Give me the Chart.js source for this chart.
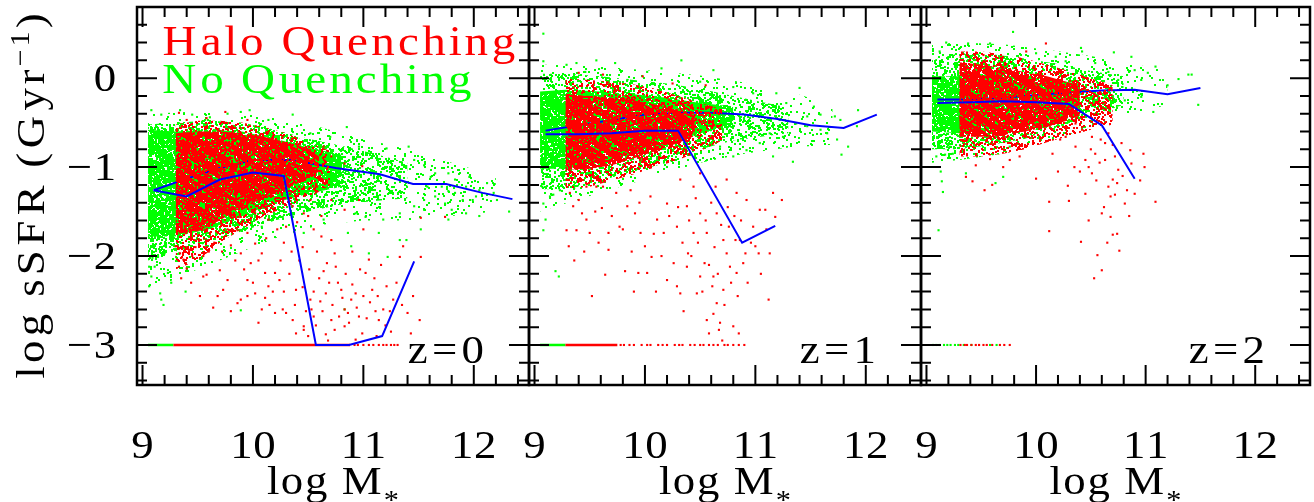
<!DOCTYPE html>
<html>
<head>
<meta charset="utf-8">
<script src="https://cdn.jsdelivr.net/npm/chart.js"></script>
<style>
  html, body { margin: 0; padding: 0; background: #fff; }
  #wrap { position: relative; width: 1314px; height: 502px; overflow: hidden; background: #fff; }
  #wrap canvas { position: absolute; left: 0; top: 0; }
</style>
</head>
<body>
<div id="wrap">
  <canvas id="p0" width="1314" height="502"></canvas>
  <canvas id="p1" width="1314" height="502"></canvas>
  <canvas id="p2" width="1314" height="502"></canvas>
</div>
<script>
// ---------------- axes ----------------
const massTicks = [9, 10, 11, 12];
const massTickLabels = ['9', '10', '11', '12'];
const ssfrTicks = [0, -1, -2, -3];
const ssfrTickLabels = ['0', '\u22121', '\u22122', '\u22123'];
const redshiftLabels = ['z=0', 'z=1', 'z=2'];
const legendLabels = ['Halo Quenching', 'No Quenching'];

// ---------------- z = 0 ----------------
const z0NoQuenchMass = [9.1, 9.4, 9.7, 10.0, 10.35, 10.75, 11.15, 11.45, 11.75, 12.08, 12.35];
const z0NoQuenchSSFR = [-1.26, -1.13, -1.01, -0.92, -0.92, -1.01, -1.08, -1.19, -1.19, -1.29, -1.36];
const z0HaloMass = [9.1, 9.4, 9.7, 10.0, 10.28, 10.57, 10.87, 11.17, 11.46];
const z0HaloSSFR = [-1.26, -1.33, -1.14, -1.06, -1.1, -3.0, -3.0, -2.9, -2.06];

const z0GreenSparseMass = [9.05, 9.4, 9.8, 10.2, 10.6, 11.0, 11.4, 11.8, 12.2];
const z0GreenSparseTop = [-0.4, -0.38, -0.38, -0.45, -0.55, -0.68, -0.8, -0.95, -1.1];
const z0GreenSparseBottom = [-2.4, -2.2, -2.0, -1.8, -1.65, -1.6, -1.6, -1.55, -1.5];
const z0GreenHaloMass = [9.05, 9.3, 9.6, 9.9, 10.2, 10.5, 10.8, 11.1, 11.4];
const z0GreenHaloTop = [-0.52, -0.5, -0.48, -0.5, -0.58, -0.68, -0.76, -0.85, -0.95];
const z0GreenHaloBottom = [-2.05, -1.95, -1.85, -1.72, -1.6, -1.5, -1.42, -1.38, -1.35];
const z0GreenCoreMass = [9.05, 9.3, 9.6, 9.9, 10.2, 10.5, 10.8];
const z0GreenCoreTop = [-0.58, -0.6, -0.58, -0.6, -0.68, -0.78, -0.86];
const z0GreenCoreBottom = [-1.78, -1.78, -1.7, -1.55, -1.4, -1.3, -1.22];
const z0RedHaloMass = [9.3, 9.5, 9.7, 9.9, 10.1, 10.3, 10.5, 10.7];
const z0RedHaloTop = [-0.52, -0.48, -0.48, -0.5, -0.55, -0.62, -0.72, -0.82];
const z0RedHaloBottom = [-2.15, -2.05, -1.85, -1.7, -1.55, -1.45, -1.35, -1.2];
const z0RedCoreMass = [9.3, 9.5, 9.7, 9.9, 10.1, 10.3, 10.5, 10.6];
const z0RedCoreTop = [-0.62, -0.6, -0.6, -0.62, -0.66, -0.72, -0.8, -0.88];
const z0RedCoreBottom = [-1.75, -1.72, -1.6, -1.45, -1.35, -1.25, -1.12, -1.05];

const z0RedGalaxies = [
  [9.30,-1.89],[9.34,-1.97],[9.39,-2.08],[9.40,-2.14],[9.45,-2.00],[9.33,-2.12],[9.37,-2.04],[9.42,-1.93],
  [9.55,-2.23],[9.58,-2.21],[9.51,-1.82],[9.61,-1.74],[9.86,-1.71],[9.89,-1.97],[9.95,-1.74],[10.02,-1.86],
  [10.08,-1.97],[10.11,-2.19],[9.86,-2.53],[9.89,-2.49],[10.02,-2.42],[10.11,-2.47],[10.20,-2.19],[10.24,-2.27],
  [10.27,-2.60],[10.30,-2.64],[10.39,-2.38],[9.70,-2.16],[9.73,-2.38],[9.77,-2.27],[9.95,-2.27],[9.98,-2.08],
  [10.14,-2.34],[10.20,-2.64],[10.36,-2.72],[10.46,-2.79],[10.52,-2.49],[10.53,-2.60],[10.55,-2.68],[10.61,-2.51],
  [10.64,-2.17],[10.67,-2.08],[10.71,-1.82],[10.74,-1.97],[10.77,-2.30],[10.80,-2.38],[10.83,-2.60],[10.86,-2.64],
  [10.89,-2.49],[10.93,-2.42],[10.96,-2.68],[10.99,-2.87],[11.02,-2.19],[11.05,-2.04],[11.08,-2.38],[11.11,-2.62],
  [11.14,-2.72],[11.18,-2.60],[11.21,-2.34],[11.27,-2.49],[11.33,-2.01],[11.36,-1.89],[11.40,-2.64],[11.43,-2.87],
  [11.51,-2.72],[11.52,-2.01],[10.83,-2.79],[10.74,-2.83],[10.71,-2.72],[10.66,-2.42],[10.93,-2.94],[10.46,-2.83],
  [10.39,-2.87],[10.36,-1.44],[10.46,-1.52],[10.52,-1.37],[10.30,-1.67],[10.42,-1.22],[10.58,-1.22],[10.71,-1.37],
  [10.14,-1.59],[10.02,-1.52],[9.89,-1.56],[9.77,-1.70],[10.83,-1.48],[10.96,-1.37],[11.52,-1.57],[11.74,-1.56],
  [9.33,-0.39],[9.75,-0.38],[9.58,-0.45],[9.95,-0.47],[9.40,-0.47],[10.71,-0.88],[10.83,-0.96],[10.99,-0.99],
  [10.64,-0.77],[9.52,-2.45],[9.64,-2.58],[9.80,-2.62],[10.05,-2.75],[10.58,-1.95],[10.62,-1.78],[10.90,-1.95],
  [11.00,-1.70],[11.25,-2.85],[11.12,-2.90],[10.68,-2.95],[10.50,-2.90],
  [10.42,-2.05],[10.45,-2.35],[10.48,-2.62],[10.51,-2.15],[10.55,-2.40],[10.57,-2.78],[10.60,-2.25],[10.63,-2.62],
  [10.66,-2.88],[10.69,-2.30],[10.72,-2.55],[10.75,-2.12],[10.78,-2.68],[10.81,-2.47],[10.84,-2.20],[10.87,-2.75],
  [10.90,-2.32],[10.94,-2.58],[10.97,-2.15],[11.00,-2.45],[11.03,-2.70],[11.06,-2.52],[11.10,-2.25],[11.13,-2.45],
  [11.16,-2.10],[11.20,-2.78],[11.24,-2.62],[11.30,-2.30],[11.35,-2.55],[11.45,-2.45],
  [9.65,-1.85],[9.72,-1.95],[9.80,-1.88],[9.84,-2.05],[9.92,-2.15],[10.00,-2.30],[10.05,-2.05],[10.12,-1.80],
  [10.18,-2.40],[10.25,-2.05],[10.28,-1.85],[10.33,-2.20],[10.35,-1.95],[10.38,-2.55],[10.22,-1.70],[10.45,-1.90],
  [10.40,-1.62],[10.55,-1.70],[10.62,-1.55],[10.50,-1.55],[9.48,-1.90],[9.55,-2.00],[9.60,-1.95],[9.35,-2.25],
  [9.44,-2.30],[9.68,-2.45],[9.95,-2.45],[10.15,-2.55],[10.28,-2.40],[10.08,-2.60]
];
const z0GreenGalaxies = [
  [9.08,-0.36],[9.17,-0.41],[9.34,-0.36],[9.45,-0.41],[9.61,-0.44],[9.77,-0.40],[9.89,-0.38],[9.97,-0.36],
  [10.14,-0.47],[10.36,-0.41],[10.85,-0.55],[10.52,-0.62],[10.70,-0.66],[10.96,-0.77],[11.21,-0.79],[11.41,-0.77],
  [11.55,-0.98],[11.46,-0.92],[11.65,-1.07],[11.77,-1.07],[11.83,-1.14],[11.93,-1.22],[11.99,-1.37],[12.05,-1.26],
  [12.12,-1.31],[12.18,-1.29],[11.90,-1.37],[11.80,-1.48],[11.74,-1.41],[11.93,-1.52],[12.05,-1.55],[12.32,-1.50],
  [12.21,-1.37],[11.65,-1.33],[11.71,-1.22],[11.58,-1.22],[11.55,-1.37],[11.83,-1.29],[11.96,-1.11],[11.61,-1.11],
  [11.55,-1.48],[11.46,-1.44],[11.33,-1.52],[11.18,-1.59],[11.02,-1.56],[10.93,-1.52],[11.77,-1.27],[12.12,-1.18],
  [12.02,-1.33],[11.77,-1.59],[11.52,-1.70],[10.86,-1.74],[10.89,-1.89],[11.22,-2.01],[11.33,-1.82],[10.83,-2.60],
  [9.89,-2.61],[10.64,-1.59],[10.46,-1.74],[10.27,-1.56],[10.08,-1.67],[11.14,-1.74],[11.39,-1.82],[11.05,-1.97],
  [9.08,-2.23],[9.11,-2.12],[9.14,-2.01],[9.06,-2.34],[9.17,-2.49],[9.20,-1.97],[9.26,-2.30],[9.33,-1.97],
  [9.19,-2.55],[9.39,-2.40],[9.16,-2.42],[9.23,-2.19],[9.09,-2.02],[9.06,-2.12]
];
const z0GreenFloor = [9.05, 9.28];
const z0RedFloor = [9.28, 10.88];
const z0RedFloorGalaxies = [10.92, 10.95, 11.0, 11.05, 11.09, 11.14, 11.18, 11.21, 11.25, 11.28, 11.31];
const z0GreenFloorGalaxies = [];

// ---------------- z = 1 ----------------
const z1NoQuenchMass = [9.1, 9.4, 9.7, 10.0, 10.3, 10.6, 10.9, 11.2, 11.5, 11.8, 12.1];
const z1NoQuenchSSFR = [-0.59, -0.53, -0.47, -0.41, -0.39, -0.39, -0.41, -0.46, -0.53, -0.56, -0.41];
const z1HaloMass = [9.1, 9.4, 9.7, 10.0, 10.3, 10.88, 11.18];
const z1HaloSSFR = [-0.63, -0.63, -0.62, -0.59, -0.59, -1.85, -1.66];

const z1GreenSparseMass = [9.05, 9.3, 9.7, 10.1, 10.5, 10.9, 11.3, 11.7];
const z1GreenSparseTop = [0.15, 0.15, 0.12, 0.08, 0.03, -0.05, -0.15, -0.3];
const z1GreenSparseBottom = [-1.5, -1.4, -1.25, -1.1, -0.95, -0.85, -0.78, -0.75];
const z1GreenHaloMass = [9.05, 9.3, 9.6, 9.9, 10.2, 10.5, 10.8, 11.1, 11.3];
const z1GreenHaloTop = [0.05, 0.05, 0.02, -0.02, -0.06, -0.12, -0.2, -0.28, -0.33];
const z1GreenHaloBottom = [-1.25, -1.25, -1.15, -1.05, -0.95, -0.8, -0.7, -0.65, -0.62];
const z1GreenCoreMass = [9.05, 9.28, 9.6, 9.9, 10.2, 10.5, 10.8];
const z1GreenCoreTop = [-0.15, -0.13, -0.15, -0.18, -0.22, -0.28, -0.32];
const z1GreenCoreBottom = [-1.02, -1.02, -0.95, -0.85, -0.75, -0.62, -0.55];
const z1RedHaloMass = [9.28, 9.5, 9.7, 9.9, 10.1, 10.3, 10.5, 10.7];
const z1RedHaloTop = [0.0, -0.02, -0.04, -0.07, -0.12, -0.2, -0.28, -0.35];
const z1RedHaloBottom = [-1.25, -1.22, -1.15, -1.08, -1.0, -0.92, -0.82, -0.7];
const z1RedCoreMass = [9.28, 9.5, 9.7, 9.9, 10.1, 10.3, 10.45];
const z1RedCoreTop = [-0.18, -0.2, -0.22, -0.25, -0.3, -0.36, -0.42];
const z1RedCoreBottom = [-1.03, -1.02, -0.98, -0.9, -0.82, -0.73, -0.65];

const z1RedGalaxies = [
  [9.32,-1.29],[9.40,-1.37],[9.29,-1.71],[9.31,-1.89],[9.43,-1.52],[9.47,-1.59],[9.38,-1.71],[9.50,-1.74],
  [9.61,-1.46],[9.67,-1.74],[9.67,-1.93],[9.64,-2.21],[9.77,-1.67],[9.84,-1.44],[9.91,-1.52],[9.96,-1.74],
  [10.00,-1.89],[10.02,-2.19],[10.06,-2.01],[10.11,-1.59],[10.17,-1.74],[10.20,-2.27],[10.26,-2.08],[10.29,-2.34],
  [10.32,-2.42],[10.35,-2.62],[10.38,-2.12],[10.39,-1.97],[10.44,-1.74],[10.47,-2.42],[10.50,-2.23],[10.54,-2.08],
  [10.56,-2.72],[10.58,-2.87],[10.61,-2.34],[10.62,-2.23],[10.65,-2.53],[10.67,-2.83],[10.68,-2.75],[10.71,-2.38],
  [10.74,-1.97],[10.76,-1.67],[10.77,-2.12],[10.80,-2.79],[10.83,-2.19],[10.85,-2.87],[10.89,-2.08],[10.91,-1.97],
  [10.92,-1.37],[10.98,-1.67],[11.03,-1.97],[11.04,-1.48],[11.12,-2.49],[11.13,-1.97],[11.16,-1.29],[11.18,-1.56],
  [11.24,-1.37],[10.50,-1.52],[10.56,-1.74],[10.65,-1.52],[10.29,-1.67],[10.38,-1.44],[10.20,-1.41],[10.71,-1.82],
  [10.82,-1.82],[10.86,-1.82],[11.00,-1.89],[11.09,-1.48],[10.64,-1.22],[10.44,-1.22],[10.32,-1.14],[10.50,-1.07],
  [10.74,-1.14],[10.83,-1.29],[10.05,-1.33],[9.74,-1.29],[9.56,-1.22],[9.87,-1.26],[9.94,-2.19],[9.82,-2.17],
  [9.62,-1.22],[9.47,-1.22],[9.35,-1.44],[9.40,0.06],[9.62,0.04],[9.98,0.02],[10.25,-0.06],[10.55,-0.08],
  [10.30,-1.45],[10.34,-1.85],[10.40,-1.60],[10.42,-2.00],[10.46,-1.35],[10.48,-1.85],[10.52,-2.40],[10.55,-1.60],
  [10.58,-2.10],[10.60,-1.40],[10.63,-1.90],[10.66,-2.20],[10.69,-1.65],[10.72,-2.55],[10.75,-1.45],[10.78,-2.30],
  [10.81,-1.55],[10.84,-2.45],[10.87,-1.60],[10.93,-2.30],[10.96,-1.85],[11.05,-2.20],[11.10,-1.70],[10.70,-2.95],
  [10.62,-2.65],[9.55,-1.50],[9.70,-1.55],[9.80,-1.70],[9.88,-1.95],[9.95,-1.40],[10.08,-1.75],[10.15,-2.00],
  [10.22,-1.55],[10.10,-2.40],[9.90,-2.40],[9.58,-1.85],[9.45,-1.95],[9.36,-2.05],[9.52,-2.45]
];
const z1GreenGalaxies = [
  [9.08,0.50],[9.08,0.19],[9.29,0.15],[9.38,0.17],[9.56,0.20],[9.73,0.17],[9.46,0.07],[10.02,0.07],
  [10.15,0.11],[10.33,0.20],[10.62,0.09],[9.84,-0.02],[10.50,-0.04],[10.80,-0.10],[10.98,-0.17],[11.19,-0.17],
  [11.40,-0.11],[11.53,-0.32],[11.28,-0.28],[11.16,-0.36],[11.37,-0.51],[11.47,-0.54],[11.59,-0.58],[11.72,-0.43],
  [11.77,-0.47],[11.93,-0.36],[11.92,-0.54],[11.84,-0.77],[11.78,-0.86],[11.74,-0.69],[11.34,-0.94],[11.25,-0.66],
  [11.16,-0.88],[11.04,-0.73],[11.13,-0.62],[10.92,-0.81],[10.80,-0.88],[10.68,-0.77],[11.59,-0.41],[11.65,-0.62],
  [11.47,-0.43],[11.22,-0.47],[9.07,-1.22],[9.08,-1.41],[9.14,-1.33],[9.17,-1.31],[9.10,-1.59],[9.08,-1.71],
  [9.19,-2.17],[9.22,-2.23],[9.23,-1.26],[9.11,-1.11],[10.29,-0.84],[10.14,-0.88],[10.06,-0.73]
];
const z1GreenFloor = [9.05, 9.28];
const z1RedFloor = [9.28, 9.75];
const z1RedFloorGalaxies = [9.78, 9.81, 9.86, 9.9, 9.97, 10.02, 10.05, 10.12, 10.16, 10.2, 10.27, 10.31, 10.34,
  10.41, 10.45, 10.5, 10.53, 10.58, 10.62, 10.66, 10.72, 10.75, 10.8, 10.85, 10.9];
const z1GreenFloorGalaxies = [];

// ---------------- z = 2 ----------------
const z2NoQuenchMass = [9.1, 9.4, 9.7, 10.0, 10.3, 10.6, 10.9, 11.2, 11.5];
const z2NoQuenchSSFR = [-0.24, -0.24, -0.22, -0.19, -0.16, -0.14, -0.13, -0.18, -0.11];
const z2HaloMass = [9.1, 9.4, 9.7, 10.0, 10.3, 10.6, 10.9];
const z2HaloSSFR = [-0.28, -0.27, -0.26, -0.27, -0.29, -0.53, -1.13];

const z2GreenSparseMass = [9.05, 9.3, 9.7, 10.1, 10.5, 10.9, 11.2];
const z2GreenSparseTop = [0.38, 0.4, 0.38, 0.32, 0.25, 0.15, 0.1];
const z2GreenSparseBottom = [-0.95, -0.92, -0.85, -0.72, -0.55, -0.4, -0.3];
const z2GreenHaloMass = [9.05, 9.3, 9.6, 9.9, 10.2, 10.5, 10.8];
const z2GreenHaloTop = [0.2, 0.28, 0.27, 0.22, 0.16, 0.08, 0.02];
const z2GreenHaloBottom = [-0.8, -0.8, -0.75, -0.68, -0.55, -0.42, -0.3];
const z2GreenCoreMass = [9.05, 9.3, 9.6, 9.9, 10.2, 10.4];
const z2GreenCoreTop = [0.02, 0.02, 0.05, 0.02, -0.03, -0.06];
const z2GreenCoreBottom = [-0.6, -0.62, -0.6, -0.55, -0.48, -0.42];
const z2RedHaloMass = [9.3, 9.5, 9.7, 9.9, 10.1, 10.3, 10.5, 10.7];
const z2RedHaloTop = [0.3, 0.3, 0.27, 0.22, 0.15, 0.08, 0.0, -0.08];
const z2RedHaloBottom = [-0.88, -0.88, -0.85, -0.8, -0.72, -0.65, -0.58, -0.52];
const z2RedCoreMass = [9.3, 9.5, 9.7, 9.9, 10.1, 10.3, 10.4];
const z2RedCoreTop = [0.18, 0.15, 0.11, 0.07, 0.02, -0.05, -0.1];
const z2RedCoreBottom = [-0.66, -0.66, -0.64, -0.6, -0.55, -0.47, -0.42];

const z2RedGalaxies = [
  [9.36,-1.11],[9.42,-1.16],[9.53,-1.26],[9.58,-0.91],[9.70,-1.00],[9.76,-0.92],[9.85,-0.88],[10.00,-1.13],
  [10.12,-1.39],[10.29,-1.21],[10.30,-1.38],[10.36,-0.77],[10.45,-0.92],[10.48,-1.00],[10.51,-1.07],[10.54,-0.85],
  [10.59,-0.69],[10.63,-0.92],[10.66,-1.22],[10.68,-1.33],[10.70,-1.14],[10.72,-1.31],[10.74,-1.18],[10.75,-1.03],
  [10.81,-1.41],[10.83,-1.26],[10.86,-0.81],[10.87,-0.96],[10.98,-0.85],[10.99,-1.00],[11.09,-1.39],[10.60,-1.52],
  [10.68,-1.56],[10.56,-1.99],[10.53,-2.25],[10.60,-2.16],[10.70,-1.76],[10.74,-1.75],[10.76,-1.94],[10.41,-1.84],
  [10.12,-1.72],[10.15,-0.85],[10.22,-0.69],[10.42,-0.58],[10.66,-0.62],[10.78,-0.73],[10.36,-0.51],[10.27,-0.66],
  [10.63,-0.73],[10.51,-0.66],[9.91,0.30],[10.09,0.39],[9.52,0.26],
  [10.40,-1.05],[10.45,-1.30],[10.55,-1.15],[10.58,-0.95],[10.62,-1.45],[10.72,-0.88],[10.79,-1.10],[10.85,-1.55],
  [10.90,-1.30],[10.95,-1.15],[10.65,-1.85],[10.48,-1.60],[10.35,-1.00],[10.20,-1.05],[9.60,-1.20],[9.45,-0.98],
  [10.50,-0.80],[10.70,-0.75]
];
const z2GreenGalaxies = [
  [9.12,0.30],[9.18,0.40],[9.38,0.39],[9.58,0.39],[9.79,0.52],[10.41,0.34],[10.42,0.30],[10.71,0.29],
  [10.87,0.24],[10.90,0.09],[11.09,0.13],[11.02,0.06],[10.96,-0.02],[11.20,-0.08],[11.30,-0.01],[11.39,0.04],
  [11.42,0.04],[11.07,-0.38],[11.48,-0.30],[10.81,-0.25],[10.75,-0.02],[10.66,0.07],[10.54,0.17],[10.27,0.19],
  [10.18,0.24],[10.00,0.28],[10.54,-0.17],[10.68,-0.13],[10.96,-0.21],[9.11,-1.71],[9.15,-1.28],[9.13,-1.05],
  [9.14,-1.16],[9.17,-0.86],[9.09,-0.88],[9.36,-1.07],[9.63,-1.18],[9.70,-1.11],[9.59,-0.73],[9.76,-0.77],
  [9.21,-0.77],[9.24,-0.85]
];
const z2GreenFloor = [];
const z2RedFloor = [];
const z2GreenFloorGalaxies = [9.06, 9.09, 9.12, 9.16, 9.19, 9.22, 9.26, 9.29, 9.34, 9.41, 9.58, 9.64];
const z2RedFloorGalaxies = [9.31, 9.35, 9.37, 9.41, 9.45, 9.48, 9.52, 9.55, 9.6, 9.67, 9.71, 9.76];

// floor value used for galaxies with no measurable star formation
const ssfrFloor = -3;

// ---------------- styling ----------------
const RED = '#ff0000', GREEN = '#00ff00', BLUE = '#0000ff';
const FONT = '"Liberation Serif", "Times New Roman", serif';
const X_RANGE = [8.95, 12.5];
const Y_RANGE = [-3.45, 0.8];
const PANEL_EDGES = [[137, 529], [529, 921], [921, 1313]];
const PLOT_TOP = 7, PLOT_BOTTOM = 385;

// integer hash used to scatter the 2px specks of a fill texture
function hash32(n) {
  n = (n ^ 61) ^ (n >>> 16);
  n = (n + (n << 3)) | 0;
  n = n ^ (n >>> 4);
  n = Math.imul(n, 0x27d4eb2d);
  n = n ^ (n >>> 15);
  return (n >>> 0) / 4294967296;
}
// speckled fill texture for the densely populated parts of each cloud
function speckle(color, coverage, w, h, seed) {
  const c = document.createElement('canvas');
  c.width = w; c.height = h;
  const g = c.getContext('2d');
  g.fillStyle = color;
  const count = Math.round(-Math.log(1 - coverage) * w * h / 4);
  for (let i = 0; i < count; i++) {
    const u = hash32(seed + 2 * i), v = hash32(seed + 2 * i + 1);
    const px = Math.floor(u * w), py = Math.floor(v * h);
    g.fillRect(px, py, 2, 2);
    if (px === w - 1) g.fillRect(0, py, 1, 2);
    if (py === h - 1) g.fillRect(px, 0, 2, 1);
  }
  return g.createPattern(c, 'repeat');
}
const textures = {
  greenSparse: speckle(GREEN, 0.11, 127, 113, 101),
  greenHalo: speckle(GREEN, 0.38, 131, 109, 20011),
  greenCore: speckle(GREEN, 0.86, 137, 107, 40009),
  redHalo: speckle(RED, 0.38, 139, 103, 60013),
  redCore: speckle(RED, 0.86, 149, 101, 80021)
};

const zip = (xs, ys) => xs.map((x, i) => ({ x, y: ys[i] }));
const pairs = list => list.map(([x, y]) => ({ x, y }));
const onFloor = xs => xs.map(x => ({ x, y: ssfrFloor }));

function band(xs, top, bottom, texture, order) {
  return [
    { type: 'line', data: zip(xs, top), borderWidth: 0, borderColor: 'transparent',
      pointRadius: 0, fill: '+1', backgroundColor: texture, order, tension: 0 },
    { type: 'line', data: zip(xs, bottom), borderWidth: 0, borderColor: 'transparent',
      pointRadius: 0, fill: false, order, tension: 0 }
  ];
}
function galaxies(list, color, order) {
  return { type: 'scatter', data: list, pointStyle: 'rect', pointRadius: 1.5, borderWidth: 0,
    backgroundColor: color, borderColor: color, order };
}
function median(xs, ys, order) {
  return { type: 'line', data: zip(xs, ys), borderColor: BLUE, borderWidth: 2, pointRadius: 0,
    fill: false, tension: 0, order };
}
function floorSegment(range, color, order) {
  return { type: 'line', data: range.length ? onFloor(range) : [], borderColor: color, borderWidth: 2.5,
    pointRadius: 0, fill: false, order };
}

const panelData = [
  {
    bands: [
      [z0GreenSparseMass, z0GreenSparseTop, z0GreenSparseBottom, 'greenSparse', 30],
      [z0GreenHaloMass, z0GreenHaloTop, z0GreenHaloBottom, 'greenHalo', 29],
      [z0GreenCoreMass, z0GreenCoreTop, z0GreenCoreBottom, 'greenCore', 28],
      [z0RedHaloMass, z0RedHaloTop, z0RedHaloBottom, 'redHalo', 22],
      [z0RedCoreMass, z0RedCoreTop, z0RedCoreBottom, 'redCore', 21]
    ],
    green: z0GreenGalaxies, red: z0RedGalaxies,
    noQ: [z0NoQuenchMass, z0NoQuenchSSFR], halo: [z0HaloMass, z0HaloSSFR],
    greenFloor: z0GreenFloor, redFloor: z0RedFloor,
    greenFloorPts: z0GreenFloorGalaxies, redFloorPts: z0RedFloorGalaxies
  },
  {
    bands: [
      [z1GreenSparseMass, z1GreenSparseTop, z1GreenSparseBottom, 'greenSparse', 30],
      [z1GreenHaloMass, z1GreenHaloTop, z1GreenHaloBottom, 'greenHalo', 29],
      [z1GreenCoreMass, z1GreenCoreTop, z1GreenCoreBottom, 'greenCore', 28],
      [z1RedHaloMass, z1RedHaloTop, z1RedHaloBottom, 'redHalo', 22],
      [z1RedCoreMass, z1RedCoreTop, z1RedCoreBottom, 'redCore', 21]
    ],
    green: z1GreenGalaxies, red: z1RedGalaxies,
    noQ: [z1NoQuenchMass, z1NoQuenchSSFR], halo: [z1HaloMass, z1HaloSSFR],
    greenFloor: z1GreenFloor, redFloor: z1RedFloor,
    greenFloorPts: z1GreenFloorGalaxies, redFloorPts: z1RedFloorGalaxies
  },
  {
    bands: [
      [z2GreenSparseMass, z2GreenSparseTop, z2GreenSparseBottom, 'greenSparse', 30],
      [z2GreenHaloMass, z2GreenHaloTop, z2GreenHaloBottom, 'greenHalo', 29],
      [z2GreenCoreMass, z2GreenCoreTop, z2GreenCoreBottom, 'greenCore', 28],
      [z2RedHaloMass, z2RedHaloTop, z2RedHaloBottom, 'redHalo', 22],
      [z2RedCoreMass, z2RedCoreTop, z2RedCoreBottom, 'redCore', 21]
    ],
    green: z2GreenGalaxies, red: z2RedGalaxies,
    noQ: [z2NoQuenchMass, z2NoQuenchSSFR], halo: [z2HaloMass, z2HaloSSFR],
    greenFloor: z2GreenFloor, redFloor: z2RedFloor,
    greenFloorPts: z2GreenFloorGalaxies, redFloorPts: z2RedFloorGalaxies
  }
];

// ---------------- text helpers (wide plotting-style lettering) ----------------
function drawRich(ctx, segs, x, y, align, opts) {
  opts = opts || {};
  let natural = 0;
  for (const s of segs) {
    ctx.font = s.size + 'px ' + FONT;
    for (const ch of s.text) natural += ctx.measureText(ch).width;
  }
  const k = opts.width ? opts.width / natural : (opts.stretch || 1.26);
  const total = natural * k;
  let cx = align === 'left' ? x : align === 'right' ? x - total : x - total / 2;
  ctx.textAlign = 'center';
  ctx.textBaseline = 'alphabetic';
  for (const s of segs) {
    ctx.font = s.size + 'px ' + FONT;
    for (const ch of s.text) {
      const adv = ctx.measureText(ch).width * k;
      ctx.save();
      ctx.translate(cx + adv / 2, y + (s.dy || 0));
      ctx.scale(Math.min(k, 1.12), 1);
      ctx.fillText(ch, 0, 0);
      ctx.restore();
      cx += adv;
    }
  }
}

const TXT = 40;
const panelDecor = {
  id: 'panelDecor',
  afterDatasetsDraw(chart) {
    const { ctx, chartArea: a, scales: { x, y } } = chart;
    ctx.save();
    ctx.strokeStyle = '#000';
    ctx.lineWidth = 2;
    ctx.beginPath();
    for (let i = 0; i <= 17; i++) {
      const v = 9 + i * 0.2;
      const px = x.getPixelForValue(v);
      const len = i % 5 === 0 ? 20 : 10;
      ctx.moveTo(px, a.bottom); ctx.lineTo(px, a.bottom - len);
      ctx.moveTo(px, a.top); ctx.lineTo(px, a.top + len);
    }
    for (let i = 0; i <= 20; i++) {
      const v = -3.4 + i * 0.2;
      const py = y.getPixelForValue(v);
      const len = (i - 2) % 5 === 0 ? 20 : 10;
      ctx.moveTo(a.left, py); ctx.lineTo(a.left + len, py);
      ctx.moveTo(a.right, py); ctx.lineTo(a.right - len, py);
    }
    ctx.stroke();
    ctx.lineWidth = 2.5;
    ctx.strokeRect(a.left, a.top, a.right - a.left, a.bottom - a.top);
    ctx.restore();
  },
  afterDraw(chart, args, opts) {
    const { ctx, chartArea: a, scales: { x, y } } = chart;
    const p = opts.panel;
    ctx.save();
    ctx.fillStyle = '#000';
    // mass tick labels
    massTicks.forEach((v, i) => {
      drawRich(ctx, [{ text: massTickLabels[i], size: TXT }], x.getPixelForValue(v), 458, 'center', { stretch: 1.15 });
    });
    // mass axis title
    drawRich(ctx, [{ text: 'log M', size: TXT }, { text: '*', size: 27, dy: 15 }], (a.left + a.right) / 2, 494, 'center', { width: 133 });
    // redshift tag
    drawRich(ctx, [{ text: redshiftLabels[p], size: TXT }], a.right - 43, 363, 'right', { width: 80 });
    if (p === 0) {
      ssfrTicks.forEach((v, i) => {
        drawRich(ctx, [{ text: ssfrTickLabels[i], size: TXT }], 117, y.getPixelForValue(v) + 13, 'right', { stretch: 1.2 });
      });
      ctx.save();
      ctx.translate(44, (PLOT_TOP + PLOT_BOTTOM) / 2);
      ctx.rotate(-Math.PI / 2);
      drawRich(ctx, [{ text: 'log sSFR (Gyr', size: TXT }, { text: '\u22121', size: 27, dy: -15 }, { text: ')', size: TXT }], 0, 0, 'center', { width: 368 });
      ctx.restore();
      ctx.fillStyle = RED;
      drawRich(ctx, [{ text: legendLabels[0], size: 42 }], 160, 55, 'left', { width: 357 });
      ctx.fillStyle = GREEN;
      drawRich(ctx, [{ text: legendLabels[1], size: 42 }], 160, 93, 'left', { width: 313 });
    }
    ctx.restore();
  }
};

panelData.forEach((d, p) => {
  const datasets = [];
  d.bands.forEach(([xs, top, bottom, tex, order]) => datasets.push(...band(xs, top, bottom, textures[tex], order)));
  datasets.push(galaxies(pairs(d.green), GREEN, 26));
  datasets.push(median(d.noQ[0], d.noQ[1], 24));
  datasets.push(galaxies(pairs(d.red), RED, 20));
  datasets.push(floorSegment(d.greenFloor, GREEN, 12));
  datasets.push(floorSegment(d.redFloor, RED, 11));
  datasets.push(galaxies(onFloor(d.greenFloorPts), GREEN, 10));
  datasets.push(galaxies(onFloor(d.redFloorPts), RED, 9));
  datasets.push(median(d.halo[0], d.halo[1], 2));

  const [L, R] = PANEL_EDGES[p];
  new Chart(document.getElementById('p' + p), {
    type: 'scatter',
    data: { datasets },
    options: {
      responsive: false,
      animation: false,
      events: [],
      layout: { padding: { left: L, right: 1314 - R, top: PLOT_TOP, bottom: 502 - PLOT_BOTTOM } },
      scales: {
        x: { type: 'linear', min: X_RANGE[0], max: X_RANGE[1], display: false },
        y: { type: 'linear', min: Y_RANGE[0], max: Y_RANGE[1], display: false }
      },
      plugins: {
        legend: { display: false },
        tooltip: { enabled: false },
        filler: { propagate: false },
        panelDecor: { panel: p }
      }
    },
    plugins: [panelDecor]
  });
});
</script>
</body>
</html>
